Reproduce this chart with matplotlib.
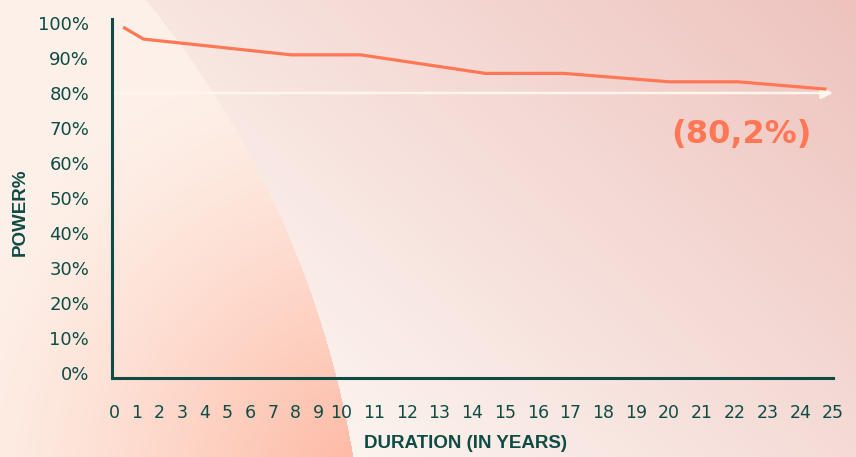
import numpy as np
import matplotlib
matplotlib.use("Agg")
import matplotlib.pyplot as plt
from matplotlib.colors import to_rgb

# Data
years = [0.4, 1.3, 7.8, 10.6, 14.4, 16.8, 20.0, 22.1, 24.8]
power = [98.8, 95.4, 90.9, 90.9, 85.6, 85.6, 83.2, 83.2, 81.1]
x_ticks = list(range(0, 26))
y_ticks = list(range(0, 101, 10))
y_tick_labels = [f"{v}%" for v in y_ticks]
threshold = 80
annotation = "(80,2%)"

TEAL = "#0e4b45"
CORAL = "#ff7755"
CREAM = "#fff7ee"

plt.rcParams['font.family'] = ['DejaVu Sans']

W, H = 856, 457
fig = plt.figure(figsize=(W / 100, H / 100), dpi=100)

# Background: diagonal pink gradient with a salmon quarter-disc on the left
yy, xx = np.mgrid[0:H, 0:W].astype(float)
s_out = np.clip(0.5 * (xx - 350) / 500 + 0.5 * (H - yy) / H, 0, 1)[..., None]
c0, c1 = np.array(to_rgb("#fcf4ef")), np.array(to_rgb("#eec3be"))
bg = c0 * (1 - s_out) + c1 * s_out

d = np.hypot(xx - 370, yy - 480)
s_in = np.clip(1 - d / 430, 0, 1) ** 1.3
s_in = s_in[..., None]
i0, i1 = np.array(to_rgb("#fdf0e8")), np.array(to_rgb("#fdb6a0"))
inside = i0 * (1 - s_in) + i1 * s_in
mask = (np.hypot(xx + 605, yy - 616) < 971)[..., None]
bg = np.where(mask, inside, bg)

bax = fig.add_axes([0, 0, 1, 1], zorder=0)
bax.imshow(bg, extent=(0, W, H, 0), aspect="auto", interpolation="bilinear")
bax.axis("off")

# Non-uniform x scale: years 0-10 compressed
k = 22.7 / 32.8
def fwd(t):
    t = np.asarray(t, dtype=float)
    return np.where(t <= 10, t * k, 10 * k + (t - 10))
def inv(u):
    u = np.asarray(u, dtype=float)
    return np.where(u <= 10 * k, u / k, 10 + (u - 10 * k))

ax = fig.add_axes([112 / W, (H - 378) / H, (833 - 112) / W, (378 - 19) / H], zorder=1)
ax.patch.set_alpha(0)
ax.set_xscale("function", functions=(fwd, inv))
ax.set_xlim(-0.09, 25)
ax.set_ylim(-1.43, 101.14)

ax.plot(years, power, color=CORAL, lw=2.3, solid_capstyle="butt", zorder=3)

ax.annotate("", xy=(25, threshold), xytext=(0.05, threshold),
            arrowprops=dict(arrowstyle="-|>,head_length=0.7,head_width=0.35",
                            color=CREAM, lw=1.8, shrinkA=0, shrinkB=0), zorder=2)

ax.text(22.2, 68.0, annotation, color=CORAL, fontsize=23, fontweight="bold",
        ha="center", va="center")

for side in ["top", "right"]:
    ax.spines[side].set_visible(False)
for side in ["left", "bottom"]:
    ax.spines[side].set_color(TEAL)
    ax.spines[side].set_linewidth(2.2)

ax.set_xticks(x_ticks)
ax.set_xticklabels([str(v) for v in x_ticks])
ax.set_yticks(y_ticks)
ax.set_yticklabels(y_tick_labels)
ax.tick_params(axis="x", length=0, pad=19, labelsize=12.5, labelcolor=TEAL)
ax.tick_params(axis="y", length=0, pad=16.5, labelsize=13, labelcolor=TEAL)
ax.minorticks_off()

fig.text(20 / W, 1 - 212 / H, "POWER%", rotation=90, color=TEAL, fontsize=13.5,
         fontweight="bold", ha="center", va="center", family="Liberation Sans")
fig.text(466 / W, 1 - 444 / H, "DURATION (IN YEARS)", color=TEAL, fontsize=13.5,
         fontweight="bold", ha="center", va="center", family="Liberation Sans")

fig.savefig("out.png", dpi=100)
